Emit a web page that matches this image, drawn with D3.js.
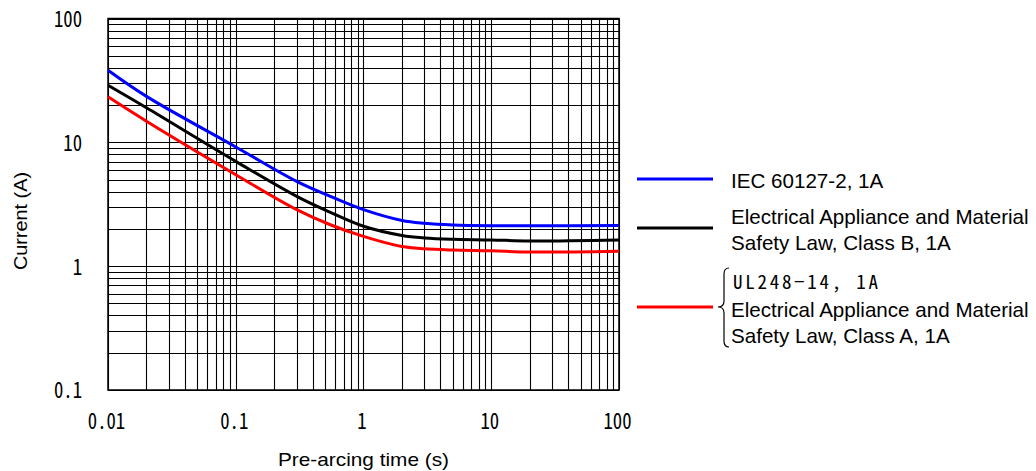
<!DOCTYPE html>
<html lang="en">
<head>
<meta charset="utf-8">
<title>Pre-arcing time vs current</title>
<script src="https://d3js.org/d3.v7.min.js"></script>
<style>
  body { margin: 0; background: #fff; }
  text { fill: #000; }
</style>
</head>
<body>
<script>
// values
var timeS   = [0.01, 0.02, 0.1, 0.3, 0.55, 1, 2, 3, 5, 10, 20, 100];
var iecA    = [38.2, 23.5, 9.18, 4.84, 3.66, 2.86, 2.34, 2.22, 2.15, 2.12, 2.12, 2.13];
var classBA = [28.9, 19.0, 7.02, 3.66, 2.72, 2.10, 1.77, 1.69, 1.65, 1.63, 1.60, 1.63];
var classAA = [23.3, 14.8, 5.48, 2.86, 2.16, 1.74, 1.44, 1.38, 1.35, 1.33, 1.30, 1.32];
var xTicks = [0.01, 0.1, 1, 10, 100];
var xTickLabels = ["0.01", "0.1", "1", "10", "100"];
var yTicks = [0.1, 1, 10, 100];
var yTickLabels = ["0.1", "1", "10", "100"];

var w = 1036, h = 471;
var pLeft = 108, pRight = 619, pTop = 18.5, pBottom = 390;

var xScale = d3.scaleLog().domain([0.01, 100]).range([pLeft, pRight]);
var yScale = d3.scaleLog().domain([0.1, 100]).range([pBottom, pTop]);

var svg = d3.select("body").append("svg")
  .attr("width", w).attr("height", h)
  .style("font-family", "'Liberation Sans', Arial, sans-serif");

// grid lines: every 1..9 in each decade
var xGrid = [], yGrid = [];
for (var e = -2; e < 2; e++) for (var k = 1; k < 10; k++) xGrid.push(k * Math.pow(10, e));
xGrid.push(100);
for (var e2 = -1; e2 < 2; e2++) for (var k2 = 1; k2 < 10; k2++) yGrid.push(k2 * Math.pow(10, e2));
yGrid.push(100);

var grid = svg.append("g").attr("stroke", "#000").attr("stroke-width", 1.1);
grid.selectAll("line.v").data(xGrid).enter().append("line")
  .attr("class", "v")
  .attr("x1", d => Math.round(xScale(d)) + 0.5).attr("x2", d => Math.round(xScale(d)) + 0.5)
  .attr("y1", pTop).attr("y2", pBottom);
grid.selectAll("line.h").data(yGrid).enter().append("line")
  .attr("class", "h")
  .attr("y1", d => Math.round(yScale(d)) + 0.5).attr("y2", d => Math.round(yScale(d)) + 0.5)
  .attr("x1", pLeft).attr("x2", pRight);

svg.append("rect")
  .attr("x", pLeft).attr("y", pTop)
  .attr("width", pRight - pLeft).attr("height", pBottom - pTop)
  .attr("fill", "none").attr("stroke", "#000").attr("stroke-width", 1.5);

// tick labels (gothic monospace digits, narrowed)
var tickFont = "'Noto Sans Mono CJK JP', 'DejaVu Sans Mono', monospace";
var xAxis = d3.axisBottom(xScale).tickValues(xTicks)
  .tickFormat((d, i) => xTickLabels[i]).tickSize(0);
var gx = svg.append("g").attr("transform", "translate(0," + pBottom + ")").call(xAxis);
gx.select(".domain").remove();
gx.selectAll("text")
  .attr("y", 0).attr("dy", 0)
  .attr("transform", "translate(-2,39) scale(0.85,1)")
  .style("font-family", tickFont).style("font-size", "22px")
  .style("font-weight", "500");

var yAxis = d3.axisLeft(yScale).tickValues(yTicks)
  .tickFormat((d, i) => yTickLabels[i]).tickSize(0);
var gy = svg.append("g").attr("transform", "translate(" + pLeft + ",0)").call(yAxis);
gy.select(".domain").remove();
gy.selectAll("text")
  .attr("x", 0).attr("dy", "0.36em")
  .attr("transform", "translate(-26,0) scale(0.85,1)")
  .style("font-family", tickFont).style("font-size", "22px")
  .style("font-weight", "500");

// axis titles
svg.append("text")
  .attr("x", 278).attr("y", 466)
  .attr("textLength", 171).attr("lengthAdjust", "spacingAndGlyphs")
  .style("font-size", "19px")
  .text("Pre-arcing time (s)");
svg.append("text")
  .attr("transform", "translate(27,270) rotate(-90)")
  .attr("textLength", 98).attr("lengthAdjust", "spacingAndGlyphs")
  .style("font-size", "19px")
  .text("Current (A)");

// curves
var series = [
  { values: iecA, color: "#0000ff" },
  { values: classBA, color: "#000000" },
  { values: classAA, color: "#ff0000" }
];
var line = d3.line()
  .x((d, i) => xScale(timeS[i]))
  .y(d => yScale(d))
  .curve(d3.curveCatmullRom.alpha(0.5));
svg.append("g").selectAll("path").data(series).enter().append("path")
  .attr("d", d => line(d.values))
  .attr("fill", "none")
  .attr("stroke", d => d.color)
  .attr("stroke-width", 3);

// legend
var leg = svg.append("g");
var legLines = [
  { y: 179, color: "#0000ff" },
  { y: 228, color: "#000000" },
  { y: 307, color: "#ff0000" }
];
leg.selectAll("line").data(legLines).enter().append("line")
  .attr("x1", 637).attr("x2", 713)
  .attr("y1", d => d.y).attr("y2", d => d.y)
  .attr("stroke", d => d.color).attr("stroke-width", 3);

var legText = [
  { t: "IEC 60127-2, 1A", y: 188 },
  { t: "Electrical Appliance and Material", y: 224 },
  { t: "Safety Law, Class B, 1A", y: 250 },
  { t: "Electrical Appliance and Material", y: 317 },
  { t: "Safety Law, Class A, 1A", y: 343 }
];
leg.selectAll("text.l").data(legText).enter().append("text")
  .attr("class", "l")
  .attr("x", 731).attr("y", d => d.y)
  .style("font-size", "20.6px")
  .text(d => d.t);
leg.append("text")
  .attr("x", 733).attr("y", 289)
  .attr("textLength", 145).attr("lengthAdjust", "spacing")
  .style("font-family", tickFont).style("font-size", "19px")
  .text("UL248\u221214, 1A");

leg.append("path")
  .attr("d", "M729,268 Q724,268 724,274 L724,301 Q724,307 718,307 Q724,307 724,313 L724,341 Q724,347 729,347")
  .attr("fill", "none").attr("stroke", "#000").attr("stroke-width", 1.2);
</script>
</body>
</html>
